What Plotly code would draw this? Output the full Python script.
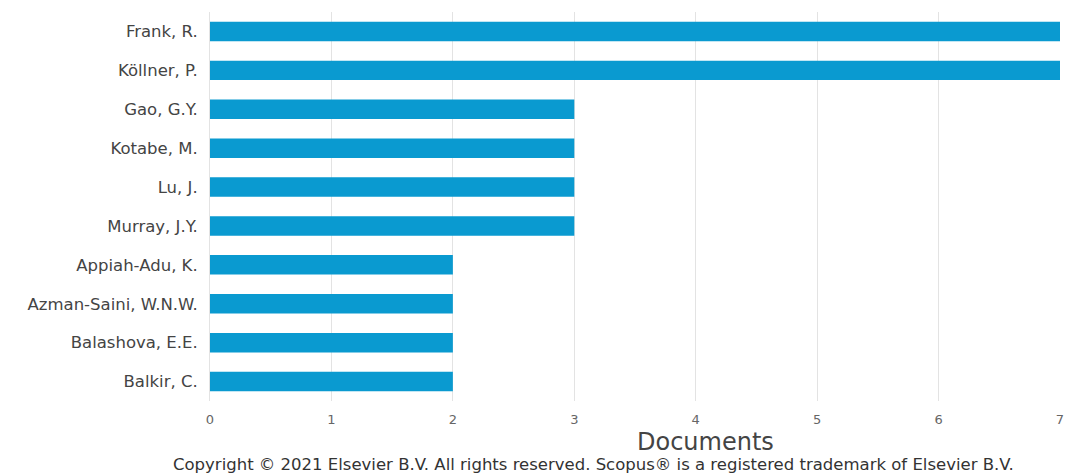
import plotly.graph_objects as go

authors = ["Frank, R.", "Köllner, P.", "Gao, G.Y.", "Kotabe, M.", "Lu, J.",
           "Murray, J.Y.", "Appiah-Adu, K.", "Azman-Saini, W.N.W.",
           "Balashova, E.E.", "Balkir, C."]
documents = [7, 7, 3, 3, 3, 3, 2, 2, 2, 2]
x_ticks = [0, 1, 2, 3, 4, 5, 6, 7]

fig = go.Figure(go.Bar(
    x=documents, y=authors, orientation="h",
    marker=dict(color="#0a9ad0", line=dict(width=0)),
    width=0.5,
))

# page has an 8px body margin, so the figure is drawn 8px right/down
PLOT_L, PLOT_R = 210, 1060
fig.update_layout(
    width=1064, height=466,
    margin=dict(l=202, r=1064 - (PLOT_R - 8), t=4, b=73),
    plot_bgcolor="white", paper_bgcolor="white",
    font=dict(family="DejaVu Sans", color="#444"),
    showlegend=False,
)
fig.update_xaxes(
    range=[0, 7], tickvals=x_ticks, showgrid=True, gridcolor="#e3e3e3",
    gridwidth=1, zeroline=False, showline=False, automargin=False,
    tickfont=dict(size=13, color="#666"), ticks="", ticklabelstandoff=9,
    ticklabeloverflow="allow",
)
fig.update_yaxes(
    categoryorder="array", categoryarray=authors, autorange="reversed",
    showgrid=False, zeroline=False, showline=True, linecolor="#e3e3e3",
    automargin=False,
    tickfont=dict(size=16.5, color="#444"), ticks="", ticklabelstandoff=8,
)
fig.add_annotation(
    text="Documents", xref="paper", yref="paper",
    x=(705 - PLOT_L) / (PLOT_R - PLOT_L), y=0,
    xanchor="center", yanchor="middle", yshift=-(442 - 401), showarrow=False,
    font=dict(size=24, color="#444"),
)
fig.add_annotation(
    text="Copyright © 2021 Elsevier B.V. All rights reserved. Scopus® is a registered trademark of Elsevier B.V.",
    xref="paper", yref="paper", x=(593 - PLOT_L) / (PLOT_R - PLOT_L), y=0,
    xanchor="center", yanchor="middle", yshift=-(464 - 401), showarrow=False,
    font=dict(size=16.5, color="#333"),
)

fig.write_html("out.html")
